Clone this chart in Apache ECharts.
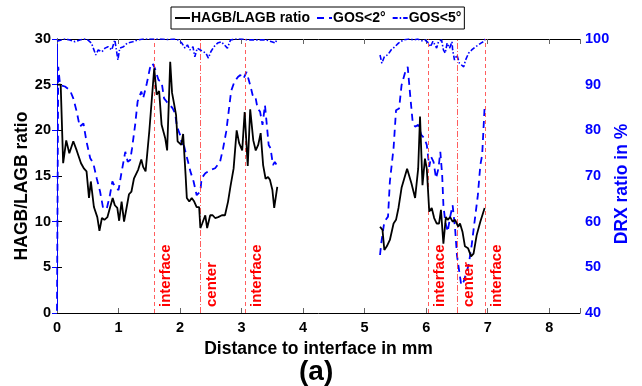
<!DOCTYPE html>
<html><head><meta charset="utf-8">
<script src="https://cdn.jsdelivr.net/npm/echarts@6/dist/echarts.min.js"></script>
<style>html,body{margin:0;padding:0;background:#fff}#c{width:642px;height:386px}</style>
</head><body><div id="c"></div>
<script>
// HAGB/LAGB ratio (left axis)
const hagbX = [0.00,0.06,0.10,0.15,0.20,0.265,0.32,0.39,0.44,0.48,0.52,0.55,0.60,0.63,0.655,0.69,0.73,0.77,0.82,0.86,0.905,0.94,0.98,1.01,1.05,1.09,1.13,1.17,1.21,1.25,1.28,1.32,1.37,1.40,1.44,1.50,1.55,1.58,1.62,1.66,1.70,1.76,1.79,1.84,1.87,1.90,1.935,1.96,2.02,2.05,2.09,2.11,2.15,2.19,2.23,2.27,2.31,2.33,2.36,2.41,2.44,2.49,2.53,2.57,2.62,2.68,2.73,2.78,2.82,2.87,2.92,2.96,3.01,3.05,3.10,3.14,3.19,3.23,3.27,3.31,3.35,3.39,3.43,3.46,3.50,3.53,3.58,
  4.4,
  5.25,5.29,5.32,5.36,5.41,5.47,5.51,5.55,5.60,5.69,5.76,5.82,5.87,5.90,5.94,5.98,6.01,6.05,6.09,6.13,6.17,6.21,6.24,6.28,6.32,6.35,6.39,6.43,6.47,6.52,6.55,6.59,6.63,6.68,6.73,6.77,6.82,6.88,6.95];
const hagbY = [25.0,25.0,16.4,18.9,17.5,18.8,17.8,16.4,15.8,15.5,12.6,14.4,11.6,11.5,10.5,9.0,10.4,10.2,10.5,11.5,12.6,11.8,11.5,10.1,12.2,10.0,11.5,13.0,13.3,14.7,14.7,15.7,16.8,16.0,15.5,19.9,24.2,26.8,23.9,24.3,20.6,19.1,17.8,27.5,24.1,23.0,21.7,18.8,18.4,19.6,15.1,12.6,12.2,12.6,12.2,11.6,11.6,9.3,9.8,10.7,9.3,10.7,10.7,10.4,10.5,10.7,10.7,12.2,13.9,15.8,20.0,18.6,17.8,22.0,16.1,22.3,18.9,17.8,18.4,19.7,16.2,14.7,14.9,14.6,13.5,11.5,13.8,
  null,
  9.45,9.1,6.9,7.3,8.0,9.8,10.2,11.5,13.7,15.8,14.2,12.6,15.8,21.5,14.0,16.9,15.8,11.1,11.5,10.4,9.8,9.8,11.3,7.6,10.5,10.2,10.5,10.0,10.2,9.45,9.8,8.9,7.3,7.1,6.2,6.5,8.5,10.0,11.5];

// GOS<2° (right axis, %)
const gos2X = [0.00,0.02,0.05,0.13,0.21,0.265,0.32,0.37,0.43,0.48,0.54,0.59,0.645,0.70,0.75,0.81,0.86,0.90,0.94,1.00,1.05,1.11,1.15,1.19,1.22,1.27,1.31,1.37,1.40,1.46,1.51,1.55,1.59,1.65,1.70,1.74,1.78,1.84,1.88,1.92,1.95,2.00,2.03,2.05,2.10,2.13,2.17,2.22,2.27,2.33,2.35,2.41,2.49,2.57,2.65,2.70,2.75,2.79,2.83,2.88,2.94,2.98,3.03,3.08,3.14,3.18,3.22,3.26,3.30,3.34,3.38,3.41,3.44,3.47,3.51,3.54,3.57,
  4.4,
  5.25,5.27,5.32,5.38,5.41,5.47,5.51,5.56,5.60,5.66,5.70,5.74,5.78,5.82,5.87,5.92,5.97,6.01,6.05,6.08,6.12,6.16,6.20,6.23,6.26,6.28,6.31,6.35,6.39,6.43,6.47,6.50,6.53,6.57,6.61,6.64,6.69,6.74,6.78,6.84,6.88,6.91,6.95];
const gos2Y = [40.5,93.9,89.9,89.6,88.8,87.0,84.1,80.8,81.5,77.5,73.9,72.8,69.5,66.6,62.9,62.9,65.8,68.8,67.7,66.9,70.9,75.3,73.1,73.5,76.1,81.2,86.3,88.5,87.0,90.3,93.6,94.7,93.6,91.0,90.6,87.0,86.3,85.5,84.8,83.7,80.8,79.0,76.8,77.5,74.6,73.1,70.9,68.8,65.8,66.6,69.5,70.6,71.3,71.7,73.1,76.1,79.7,84.1,88.6,90.5,91.7,92.1,91.3,92.8,89.9,87.7,87.7,84.8,84.1,81.2,85.5,81.2,76.8,76.1,72.4,73.1,72.4,
  null,
  52.7,55.3,60.0,61.1,68.8,76.1,84.4,84.8,89.9,92.8,93.9,87.7,81.9,80.8,81.2,79.0,78.3,76.8,72.0,74.2,73.1,69.5,71.7,75.3,70.2,63.6,60.0,57.8,61.1,63.6,58.5,52.7,49.8,46.1,46.9,48.3,50.5,54.9,59.3,65.8,72.4,74.6,85.2];

// GOS<5° (right axis, %)
const gos5X = [0.00,0.07,0.13,0.21,0.29,0.37,0.45,0.50,0.56,0.63,0.67,0.73,0.78,0.83,0.89,0.94,0.99,1.02,1.08,1.14,1.23,1.31,1.40,1.50,1.58,1.70,1.80,1.90,1.97,2.03,2.08,2.12,2.16,2.21,2.24,2.28,2.33,2.38,2.42,2.46,2.50,2.55,2.61,2.67,2.72,2.77,2.82,2.90,3.00,3.10,3.20,3.30,3.40,3.49,3.55,3.57,
  4.4,
  5.25,5.28,5.32,5.38,5.43,5.49,5.55,5.63,5.72,5.81,5.86,5.93,5.98,6.04,6.07,6.11,6.14,6.17,6.20,6.25,6.28,6.31,6.34,6.38,6.42,6.43,6.46,6.50,6.54,6.57,6.61,6.64,6.69,6.74,6.80,6.85,6.89,6.93,6.96];
const gos5Y = [99.5,99.8,100,99.8,99.4,99.8,100,99.8,99.1,96.5,97.6,97.2,98.0,98.3,97.6,99.8,95.4,98.0,98.3,99.1,99.4,99.8,100,100,100,100,99.9,100,99.8,99.1,98.0,98.7,97.6,98.3,96.1,98.0,97.6,97.2,96.9,95.8,97.2,98.3,99.1,99.4,98.7,98.0,99.8,100,100,99.8,99.8,99.8,99.8,99.4,99.1,99.8,
  null,
  96.5,94.7,96.1,96.6,97.6,98.3,99.1,99.8,100,99.8,100,99.6,99.8,99.1,98.3,99.5,99.2,98.0,99.4,99.8,97.6,96.9,99.1,98.0,99.4,97.6,95.4,96.5,94.7,95.0,93.9,95.4,96.9,97.6,98.3,98.7,99.1,99.4,100];

// marker lines
const markX = [1.58, 2.33, 3.06, 6.03, 6.51, 6.96];
const markText = ['interface','center','interface','interface','center','interface'];

const xTicks = [0,1,2,3,4,5,6,7,8];

const zip = (xs, ys) => xs.map((x, i) => [x, ys[i]]);
const FONT = '"Liberation Sans", Arial, sans-serif';

const markData = markX.map((x, i) => ({
  xAxis: x,
  lineStyle: {
    color: 'rgba(255,40,40,0.75)', width: 1,
    type: markText[i] === 'center' ? [6,2,1,2] : [4,3]
  },
  label: {
    show: true, formatter: markText[i], position: 'insideStartBottom',
    color: '#ff0000', fontWeight: 'bold', fontSize: 15, fontFamily: FONT, distance: [6, 4]
  }
}));

const chart = echarts.init(document.getElementById('c'), null, {renderer: 'canvas'});
chart.setOption({
  animation: false,
  backgroundColor: '#fff',
  textStyle: {fontFamily: FONT},
  title: {
    text: '(a)', left: 294, top: 353,
    textStyle: {fontSize: 28, fontWeight: 'bold', color: '#000', fontFamily: FONT}
  },
  legend: {
    left: 171, top: 7, itemGap: 6, itemWidth: 15, itemHeight: 10,
    borderColor: '#000', borderWidth: 1, padding: [4, 3, 4, 3],
    backgroundColor: '#fff',
    itemStyle: {color: 'rgba(0,0,0,0)', borderColor: 'rgba(0,0,0,0)', borderWidth: 0, opacity: 0},
    textStyle: {fontSize: 14, fontWeight: 'bold', color: '#000', fontFamily: FONT, padding: [0,0,0,-4]},
    data: ['HAGB/LAGB ratio', 'GOS<2°', 'GOS<5°']
  },
  grid: {left: 57, right: 62, top: 39, bottom: 73, containLabel: false, outerBoundsMode: 'none'},
  xAxis: [{
    type: 'value', min: 0, max: 8.5, interval: 1,
    name: 'Distance to interface in mm', nameLocation: 'middle', nameGap: 25,
    nameTextStyle: {fontSize: 17.5, fontWeight: 'bold', color: '#000', fontFamily: FONT},
    axisLine: {lineStyle: {color: '#000', width: 1}},
    axisTick: {inside: true, length: 5, lineStyle: {color: '#666'}},
    axisLabel: {fontSize: 14.5, fontWeight: 'bold', color: '#000', margin: 7,
      formatter: v => (xTicks.includes(v) ? String(v) : '')},
    splitLine: {show: false}
  }, {
    type: 'value', min: 0, max: 8.5, interval: 1, position: 'top',
    axisLine: {lineStyle: {color: '#000', width: 1}},
    axisTick: {inside: true, length: 5, lineStyle: {color: '#666'}},
    axisLabel: {show: false}, splitLine: {show: false}
  }],
  yAxis: [{
    type: 'value', min: 0, max: 30, interval: 5,
    name: 'HAGB/LAGB ratio', nameLocation: 'middle', nameGap: 26, nameMoveOverlap: false,
    nameTextStyle: {fontSize: 17.5, fontWeight: 'bold', color: '#000', fontFamily: FONT, padding: [0, 20, 0, 0]},
    axisLine: {show: true, lineStyle: {color: '#000', width: 1}},
    axisTick: {show: true, inside: true, length: 5, lineStyle: {color: '#000'}},
    axisLabel: {fontSize: 14.5, fontWeight: 'bold', color: '#000', margin: 6},
    splitLine: {show: false}
  }, {
    type: 'value', min: 40, max: 100, interval: 10, position: 'right',
    name: 'DRX ratio in %', nameLocation: 'middle', nameGap: 33, nameMoveOverlap: false,
    nameTextStyle: {fontSize: 17.5, fontWeight: 'bold', color: '#0000ff', fontFamily: FONT, padding: [0, 16, 0, 0]},
    axisLine: {show: true, lineStyle: {color: '#0000ff', width: 1}},
    axisTick: {show: true, inside: true, length: 5, lineStyle: {color: '#0000ff'}},
    axisLabel: {fontSize: 14.5, fontWeight: 'bold', color: '#0000ff', margin: 5},
    splitLine: {show: false}
  }],
  series: [{
    name: 'HAGB/LAGB ratio', type: 'line', xAxisIndex: 0, yAxisIndex: 0,
    data: zip(hagbX, hagbY), showSymbol: false, symbol: 'none', connectNulls: false,
    lineStyle: {color: '#000', width: 1.8}, itemStyle: {color: '#000'}, z: 5,
    markLine: {silent: true, symbol: 'none', animation: false, data: markData}
  }, {
    name: 'GOS<2°', type: 'line', xAxisIndex: 0, yAxisIndex: 1,
    data: zip(gos2X, gos2Y), showSymbol: false, symbol: 'none', connectNulls: false,
    lineStyle: {color: '#0000ff', width: 1.8, type: [7, 5]}, itemStyle: {color: '#0000ff'}, z: 4
  }, {
    name: 'GOS<5°', type: 'line', xAxisIndex: 0, yAxisIndex: 1,
    data: zip(gos5X, gos5Y), showSymbol: false, symbol: 'none', connectNulls: false,
    lineStyle: {color: '#0000ff', width: 1.6, type: [5, 2, 1.5, 2]}, itemStyle: {color: '#0000ff'}, z: 4
  }]
});
</script></body></html>
